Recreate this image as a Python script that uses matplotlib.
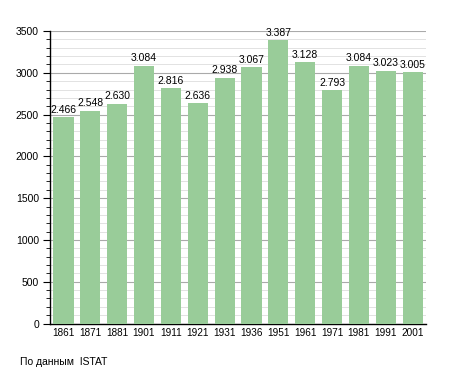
import matplotlib
matplotlib.use("Agg")
import matplotlib.pyplot as plt
from matplotlib.ticker import MultipleLocator

years = ["1861", "1871", "1881", "1901", "1911", "1921", "1931", "1936",
         "1951", "1961", "1971", "1981", "1991", "2001"]
population = [2466, 2548, 2630, 3084, 2816, 2636, 2938, 3067,
              3387, 3128, 2793, 3084, 3023, 3005]
source_note = "По данным  ISTAT"

plt.rcParams['font.family'] = ['Liberation Sans', 'DejaVu Sans']

fig = plt.figure(figsize=(4.55, 3.73), dpi=100)
ax = fig.add_axes([50/455, 1 - 323.5/373, 376/455, 292.5/373])

x = range(len(years))
ax.bar(x, population, width=0.75, color="#99cc99", zorder=3)
for i, v in zip(x, population):
    lbl = f"{v:,}".replace(",", ".")
    ax.text(i, v + 30, lbl, ha="center", va="bottom", fontsize=7.5, zorder=4)

ax.set_xlim(-0.5, len(years) - 0.5)
ax.set_ylim(0, 3500)
ax.set_xticks(list(x))
ax.set_xticklabels(years, fontsize=7.2)
ax.tick_params(axis="x", length=0, pad=3)
ax.yaxis.set_major_locator(MultipleLocator(500))
ax.yaxis.set_minor_locator(MultipleLocator(100))
ax.tick_params(axis="y", which="major", length=5, labelsize=7.5, pad=3)
ax.tick_params(axis="y", which="minor", length=3)
ax.grid(axis="y", which="major", color="#aaaaaa", linewidth=0.8, zorder=0)
ax.grid(axis="y", which="minor", color="#dddddd", linewidth=0.6, zorder=0)
for s in ["top", "right"]:
    ax.spines[s].set_visible(False)
ax.spines["left"].set_linewidth(1.0)
ax.spines["bottom"].set_linewidth(1.0)

fig.text(20/455, 1 - 362/373, source_note, fontsize=7.5, ha="left", va="center")

fig.savefig("out.png", dpi=100)
